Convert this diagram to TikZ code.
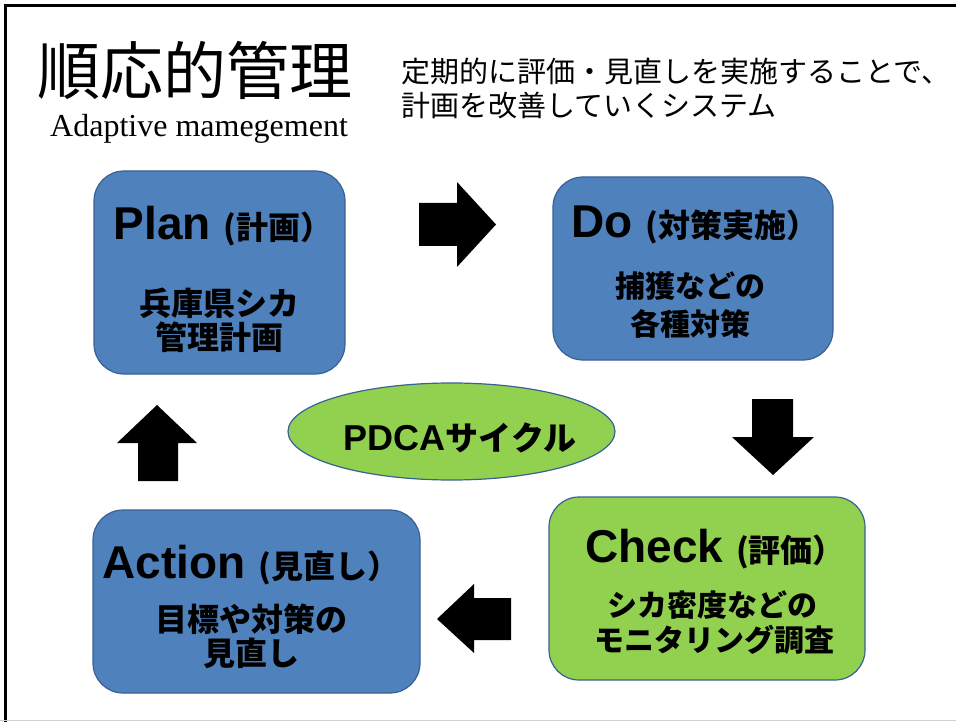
\documentclass[tikz,border=0pt]{standalone}
\usepackage{fontspec}
\setmainfont{Liberation Sans}
\newfontfamily\jp{Noto Sans CJK JP}
\newfontfamily\serifen{Liberation Serif}
\usetikzlibrary{shapes.geometric}
\definecolor{boxblue}{HTML}{4F81BD}
\definecolor{boxgreen}{HTML}{92D050}
\definecolor{edgeblue}{HTML}{3A6194}
\newcommand{\paren}[1]{{\jp\fontsize{32}{36}\selectfont #1}}
\begin{document}
\begin{tikzpicture}[x=1pt,y=-1pt,
  box/.style={draw=edgeblue, line width=1.2pt, rounded corners=30pt, inner sep=0pt},
  txt/.style={anchor=base, inner sep=0pt, align=center},
  head/.style={txt, font=\fontsize{46}{50}\selectfont\bfseries},
  sub/.style={txt, font=\jp\fontsize{30}{34}\selectfont\bfseries},
  bigsub/.style={txt, font=\jp\fontsize{32}{34}\selectfont\bfseries},
  blockarrow/.style={fill=black}]
\useasboundingbox (0,0) rectangle (956,722);
\fill[white] (0,0) rectangle (956,722);
% frame
\draw[black, line width=3pt] (5.5,722) -- (5.5,5.5) -- (956,5.5);
\draw[black!18, line width=1.5pt] (0,720.5) -- (956,720.5);

% title
\node[anchor=base west, inner sep=0pt, font=\jp\fontsize{63}{66}\selectfont] (title) at (37,95) {順応的管理};
\node[anchor=base west, inner sep=0pt, font=\serifen\fontsize{32}{34}\selectfont] (titleen) at (50,137) {Adaptive mamegement};
\node[anchor=base west, inner sep=0pt, font=\jp\fontsize{29}{34}\selectfont] (desc1) at (401,83) {定期的に評価・見直しを実施することで、};
\node[anchor=base west, inner sep=0pt, font=\jp\fontsize{29}{34}\selectfont] (desc2) at (401,117) {計画を改善していくシステム};

% boxes
\node[box, fill=boxblue, minimum width=251pt, minimum height=203pt] (plan) at (219.5,272.5) {};
\node[box, fill=boxblue, minimum width=280pt, minimum height=183pt] (do) at (693,268.5) {};
\node[box, fill=boxgreen, minimum width=316pt, minimum height=183pt] (check) at (707,588.5) {};
\node[box, fill=boxblue, minimum width=327pt, minimum height=183pt] (action) at (256.5,601.5) {};
\node[ellipse, draw=edgeblue, line width=1.2pt, fill=boxgreen, minimum width=327pt, minimum height=97pt, inner sep=0pt] (pdca) at (451.5,431.5) {};

% box texts
\node[head] (plant) at (223,240) {Plan \paren{(計画）}};
\node[bigsub] (plans1) at (219,315) {兵庫県シカ};
\node[bigsub] (plans2) at (219,349) {管理計画};

\node[head] (dot) at (695,237) {Do \paren{(対策実施）}};
\node[sub] (dos1) at (690,298) {捕獲などの};
\node[sub] (dos2) at (690,335) {各種対策};

\node[head] (checkt) at (715,562) {Check \paren{(評価）}};
\node[sub] (checks1) at (712,616) {シカ密度などの};
\node[sub] (checks2) at (714,651) {モニタリング調査};

\node[head] (actiont) at (251,578) {Action \paren{(見直し）}};
\node[bigsub] (actions1) at (251,631) {目標や対策の};
\node[bigsub] (actions2) at (251,665) {見直し};

\node[txt, font=\fontsize{36}{38}\selectfont\bfseries] (pdcat) at (460,450) {PDCA{\jp\fontsize{33}{34}\selectfont\bfseries サイクル}};

% block arrows
\fill[blockarrow] (419,203) -- (457,203) -- (457,182) -- (496,224.5) -- (457,267) -- (457,246) -- (419,246) -- cycle;
\fill[blockarrow] (752,399) -- (793,399) -- (793,437) -- (814,437) -- (773,475) -- (732,437) -- (752,437) -- cycle;
\fill[blockarrow] (511,598) -- (474,598) -- (474,584) -- (437,619) -- (474,653) -- (474,640) -- (511,640) -- cycle;
\fill[blockarrow] (138,481) -- (138,443) -- (117,443) -- (157,405) -- (197,443) -- (178,443) -- (178,481) -- cycle;
\end{tikzpicture}
\end{document}
